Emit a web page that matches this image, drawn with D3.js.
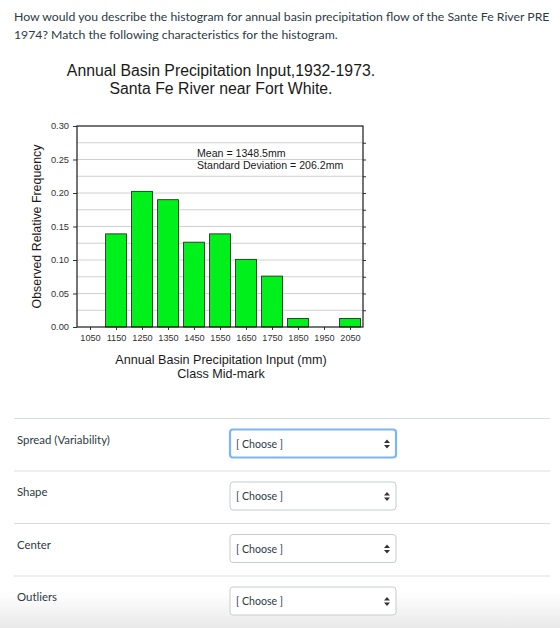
<!DOCTYPE html>
<html>
<head>
<meta charset="utf-8">
<script src="https://cdn.jsdelivr.net/npm/d3@7"></script>
<style>
  body { margin: 0; background: #fff; }
  svg { display: block; }
</style>
</head>
<body>
<svg id="page"></svg>
<script>

// data
let classMarks = [1050, 1150, 1250, 1350, 1450, 1550, 1650, 1750, 1850, 1950, 2050]
let relFreq = [0, 0.139, 0.2025, 0.19, 0.1266, 0.139, 0.101, 0.076, 0.0127, 0, 0.0127]
let yTicks = [0, 0.05, 0.10, 0.15, 0.20, 0.25, 0.30]
let gridTicks = [0.025, 0.05, 0.075, 0.10, 0.125, 0.15, 0.175, 0.20, 0.225, 0.25, 0.275]
let rightTicks = [0.025, 0.05, 0.075, 0.10, 0.125, 0.15, 0.175, 0.20, 0.225, 0.25, 0.275]
let questionLines = [
    "How would you describe the histogram for annual basin precipitation flow of the Sante Fe River PRE",
    "1974? Match the following characteristics for the histogram."
]
let titleLines = ["Annual Basin Precipitation Input,1932-1973.", "Santa Fe River near Fort White."]
let statLines = ["Mean = 1348.5mm", "Standard Deviation = 206.2mm"]
let xTitleLines = ["Annual Basin Precipitation Input (mm)", "Class Mid-mark"]
let rowLabels = ["Spread (Variability)", "Shape", "Center", "Outliers"]

let W = 560, H = 628

let svg = d3.select('#page').attr('width', W).attr('height', H)

// grey fade at the bottom of the page
let defs = svg.append('defs')
let grad = defs.append('linearGradient').attr('id', 'fade').attr('x1', 0).attr('y1', 0).attr('x2', 0).attr('y2', 1)
grad.append('stop').attr('offset', '0%').attr('stop-color', '#ffffff')
grad.append('stop').attr('offset', '100%').attr('stop-color', '#e9e9e9')
svg.append('rect').attr('x', 0).attr('y', 592).attr('width', W).attr('height', H - 592).attr('fill', 'url(#fade)')

// question text
svg.selectAll('.q').data(questionLines).enter().append('text')
    .attr('x', 14).attr('y', (d, i) => 21 + i * 18)
    .style('font-family', 'Lato, sans-serif').style('font-size', '12.25px').style('fill', '#2d3b45')
    .text(d => d)

// ---------- histogram ----------
let plot = { left: 77, right: 363, top: 126, bottom: 327 }

let x = d3.scaleLinear().domain([1000, 2100]).range([plot.left, plot.right])
let y = d3.scaleLinear().domain([0, 0.30]).range([plot.bottom, plot.top])

let chart = svg.append('g').style('font-family', 'Liberation Sans, Arial, sans-serif')

// titles
chart.selectAll('.title').data(titleLines).enter().append('text')
    .attr('x', 221).attr('y', (d, i) => 76 + i * 18)
    .attr('text-anchor', 'middle')
    .style('font-size', '15.8px').style('fill', '#1a1a1a')
    .text(d => d)

// gridlines
chart.selectAll('.grid').data(gridTicks).enter().append('line')
    .attr('x1', plot.left).attr('x2', plot.right)
    .attr('y1', d => y(d)).attr('y2', d => y(d))
    .attr('stroke', '#d0d0d0').attr('stroke-width', 1)

// bars, 80mm wide inside a 100mm class
let bars = classMarks.map((m, i) => ({ mark: m, f: relFreq[i] })).filter(d => d.f > 0)
chart.selectAll('.bar').data(bars).enter().append('rect')
    .attr('x', d => x(d.mark - 40))
    .attr('width', d => x(d.mark + 40) - x(d.mark - 40))
    .attr('y', d => y(d.f))
    .attr('height', d => y(0) - y(d.f))
    .attr('fill', '#00f01c').attr('stroke', '#1a1a1a').attr('stroke-width', 0.8)

// left axis
let yAxis = chart.append('g')
    .attr('transform', `translate(${plot.left},0)`)
    .call(d3.axisLeft(y).tickValues(yTicks).tickFormat(d3.format('.2f')).tickSize(4).tickPadding(4))
yAxis.select('.domain').remove()
yAxis.selectAll('text').style('font-size', '9.3px').style('fill', '#333').style('font-family', 'Liberation Sans, Arial, sans-serif')
yAxis.selectAll('line').attr('stroke', '#333')

// right axis ticks
let rAxis = chart.append('g')
    .attr('transform', `translate(${plot.right},0)`)
    .call(d3.axisRight(y).tickValues(rightTicks).tickFormat('').tickSize(3))
rAxis.select('.domain').remove()
rAxis.selectAll('line').attr('stroke', '#333')

// bottom axis
let xAxis = chart.append('g')
    .attr('transform', `translate(0,${plot.bottom})`)
    .call(d3.axisBottom(x).tickValues(classMarks).tickFormat(d3.format('d')).tickSize(3).tickPadding(4))
xAxis.select('.domain').remove()
xAxis.selectAll('text').style('font-size', '9.2px').style('fill', '#333').style('font-family', 'Liberation Sans, Arial, sans-serif')
xAxis.selectAll('line').attr('stroke', '#333')

// plot frame
chart.append('rect')
    .attr('x', plot.left).attr('y', plot.top)
    .attr('width', plot.right - plot.left).attr('height', plot.bottom - plot.top)
    .attr('fill', 'none').attr('stroke', '#1a1a1a').attr('stroke-width', 1.2)

// mean / sd note
chart.selectAll('.stat').data(statLines).enter().append('text')
    .attr('x', 197).attr('y', (d, i) => 157 + i * 12)
    .style('font-size', '10.6px').style('fill', '#1a1a1a')
    .text(d => d)

// axis titles
chart.selectAll('.xt').data(xTitleLines).enter().append('text')
    .attr('x', 221).attr('y', (d, i) => 364 + i * 13.5)
    .attr('text-anchor', 'middle')
    .style('font-size', '12.6px').style('fill', '#1a1a1a')
    .text(d => d)

chart.append('text')
    .attr('transform', `translate(41,${(plot.top + plot.bottom) / 2}) rotate(-90)`)
    .attr('text-anchor', 'middle')
    .style('font-size', '12.4px').style('fill', '#1a1a1a')
    .text('Observed Relative Frequency')

// ---------- matching form ----------
let rowY = [418.5, 471, 523.5, 576]
let form = svg.append('g').style('font-family', 'Lato, sans-serif')

form.selectAll('.sep').data(rowY).enter().append('line')
    .attr('x1', 14).attr('x2', 550)
    .attr('y1', d => d).attr('y2', d => d)
    .attr('stroke', '#dadde0').attr('stroke-width', 1)

form.selectAll('.lab').data(rowLabels).enter().append('text')
    .attr('x', 17).attr('y', (d, i) => rowY[i] + 25)
    .style('font-size', '11.4px').style('fill', '#2d3b45')
    .text(d => d)

let sel = form.selectAll('.sel').data(rowLabels).enter().append('g')
    .attr('transform', (d, i) => `translate(230,${rowY[i] + 11})`)

sel.append('rect')
    .attr('width', 166).attr('height', 28).attr('rx', 3)
    .attr('fill', '#fff')
    .attr('stroke', (d, i) => i == 0 ? '#7fb6ee' : '#c7cdd1')
    .attr('stroke-width', (d, i) => i == 0 ? 2.2 : 1)

sel.append('text')
    .attr('x', 6).attr('y', 18)
    .style('font-size', '10.6px').style('fill', '#2d3b45')
    .text('[ Choose ]')

// up/down arrows
sel.append('path')
    .attr('d', 'M157,10 L160,13.5 L154,13.5 Z M154,15.5 L160,15.5 L157,19 Z')
    .attr('fill', '#333')

</script>
</body>
</html>
